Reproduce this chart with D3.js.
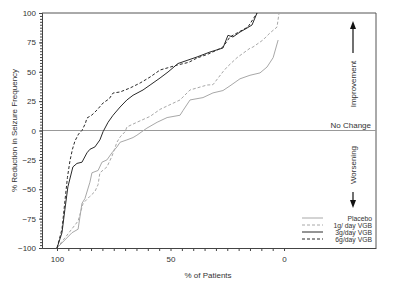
<!DOCTYPE html>
<meta charset="utf-8">
<style>
body { margin: 0; background: #fff; }
text { font-family: "Liberation Sans Narrow", "Arial Narrow", "Liberation Sans", Arial, sans-serif; fill: #333; }
.axis path, .axis line { stroke: #444; }
.axis text { font-size: 8px; fill: #333; }
.series { fill: none; stroke-width: 1px; }
</style>
<body>
<script src="https://d3js.org/d3.v7.min.js"></script>
<script>
// cumulative curves: [% of patients, % reduction]
var placebo = [[100,-100],[93.4,-87],[90.7,-84],[89,-62],[87.7,-58],[85.5,-44],[84.6,-36],[81.9,-34],
  [80.2,-27],[78,-25],[75.8,-19],[73.6,-14],[72.2,-10],[69.2,-8],[66.5,-6],[64.8,-4],[60.4,2],
  [55.9,7],[51.5,11],[45.8,13],[44.5,17],[41.4,26],[35.7,28],[31.3,32],[26.9,34],[23.8,38],
  [19.4,44],[15,47],[10.6,49],[7.5,54],[4.8,62],[2.6,77]];
var vgb1 = [[100,-100],[90.7,-77],[88.5,-62],[85.5,-56],[83.3,-52],[81.9,-46],[81.1,-36],[78,-31],
  [75.8,-22],[73.6,-10],[72.2,-5.5],[70,-1],[69.2,3],[64.8,7],[59,12],[54.6,18],[50.2,22],
  [45.8,26],[41.4,34.5],[33.9,38.7],[31.3,39],[26.9,50],[25.1,54],[20.7,62],[15,70],[13.7,71],
  [9.3,77],[6.2,83],[3.1,88],[2.2,100]];
var vgb3 = [[100,-100],[97.8,-87],[96.5,-67],[95.2,-48],[93,-31],[91.2,-28],[89,-27],[86.8,-19],
  [85.5,-16],[83.3,-14],[81.1,-8],[79.7,-1],[77.5,7],[75.3,13],[72.2,20],[69.2,26],[66.5,30],
  [62.1,34.5],[59,38.7],[54.6,44.7],[51.1,49.8],[46.7,57],[38.3,62.6],[32.6,66.8],[26.9,70.2],
  [24.7,81],[22.5,79.6],[19.4,83.8],[16.3,87.2],[14.1,89.8],[11.9,100]];
var vgb6 = [[100,-100],[97.8,-84],[96.5,-60],[95.4,-40],[94.3,-26],[93.2,-16],[92.1,-9],[90.5,-3],
  [89,0],[87.5,6],[86.8,10.6],[84.6,13.2],[82.4,17.4],[79.7,23.4],[77,27],[75.3,31.9],[72.2,32.8],
  [67.8,36.2],[63.4,40.4],[59,45.5],[54.6,51.5],[51.5,53.2],[47.1,55.7],[42,58],[38.3,61.7],
  [33.5,65],[29.5,68.5],[26.9,71.1],[23.8,79.6],[20.7,83],[15.9,88.1],[11.9,100]];

var seriesNames = ["Placebo", "1g/ day VGB", "3g/day VGB", "6g/day VGB"];
var yTicks = [100, 75, 50, 25, 0, -25, -50, -75, -100];
var xLabelled = [100, 50, 0];

var series = [
  {name: seriesNames[0], values: placebo, color: "#a8a8a8", dash: null},
  {name: seriesNames[1], values: vgb1, color: "#a8a8a8", dash: "3,2"},
  {name: seriesNames[2], values: vgb3, color: "#2a2a2a", dash: null},
  {name: seriesNames[3], values: vgb6, color: "#2a2a2a", dash: "3,2"}
];

var width = 400, height = 285;
var plotLeft = 42, plotRight = 376, plotTop = 13, plotBottom = 248;

var svg = d3.select("body").append("svg")
    .attr("width", width)
    .attr("height", height);

var x = d3.scaleLinear().domain([106.6, -40.5]).range([plotLeft, plotRight]);
var y = d3.scaleLinear().domain([-100, 100]).range([plotBottom, plotTop]);

// frame top and right
svg.append("line").attr("x1", plotLeft).attr("x2", plotRight).attr("y1", plotTop).attr("y2", plotTop)
    .attr("stroke", "#555");
svg.append("line").attr("x1", plotRight).attr("x2", plotRight).attr("y1", plotTop).attr("y2", plotBottom)
    .attr("stroke", "#555");

// no change line
svg.append("line").attr("x1", plotLeft).attr("x2", plotRight).attr("y1", y(0)).attr("y2", y(0))
    .attr("stroke", "#999");

// minor y ticks (dotted look)
svg.append("g")
    .attr("class", "axis")
    .attr("transform", "translate(" + plotLeft + ",0)")
    .call(d3.axisLeft(y).tickValues(d3.range(-100, 101, 2.5)).tickSize(2).tickFormat(""));

// y axis
svg.append("g")
    .attr("class", "axis")
    .attr("transform", "translate(" + plotLeft + ",0)")
    .call(d3.axisLeft(y).tickValues(yTicks).tickSize(3).tickSizeOuter(0).tickPadding(3));

// x axis
svg.append("g")
    .attr("class", "axis")
    .attr("transform", "translate(0," + plotBottom + ")")
    .call(d3.axisBottom(x).tickValues(d3.range(0, 101, 5)).tickSize(3).tickSizeOuter(0).tickPadding(5)
        .tickFormat(function(d) { return xLabelled.indexOf(d) >= 0 ? d : ""; }));

var line = d3.line()
    .x(function(d) { return x(d[0]); })
    .y(function(d) { return y(d[1]); });

svg.selectAll(".series")
    .data(series)
  .enter().append("path")
    .attr("class", "series")
    .attr("d", function(d) { return line(d.values); })
    .attr("stroke", function(d) { return d.color; })
    .attr("stroke-dasharray", function(d) { return d.dash; });

// axis titles
svg.append("text")
    .attr("transform", "translate(17," + ((plotTop + plotBottom) / 2) + ") rotate(-90)")
    .attr("text-anchor", "middle")
    .style("font-size", "8px")
    .text("%  Reduction in Seizure Frequency");

svg.append("text")
    .attr("x", 208).attr("y", 278)
    .attr("text-anchor", "middle")
    .style("font-size", "8px")
    .text("% of Patients");

svg.append("text")
    .attr("x", 371).attr("y", 128)
    .attr("text-anchor", "end")
    .style("font-size", "8px")
    .text("No Change");

// improvement / worsening arrows
var ax = 353;
svg.append("line").attr("x1", ax).attr("x2", ax).attr("y1", 53).attr("y2", 27)
    .attr("stroke", "#111").attr("stroke-width", 1.2);
svg.append("path").attr("d", "M" + ax + ",21 L" + (ax - 3) + ",29 L" + (ax + 3) + ",29 Z")
    .attr("fill", "#111");
svg.append("text")
    .attr("transform", "translate(" + (ax + 3) + ",84) rotate(-90)")
    .attr("text-anchor", "middle")
    .style("font-size", "8px")
    .text("Improvement");

svg.append("line").attr("x1", ax).attr("x2", ax).attr("y1", 192).attr("y2", 202)
    .attr("stroke", "#111").attr("stroke-width", 1.2);
svg.append("path").attr("d", "M" + ax + ",208 L" + (ax - 3) + ",200 L" + (ax + 3) + ",200 Z")
    .attr("fill", "#111");
svg.append("text")
    .attr("transform", "translate(" + (ax + 3) + ",165) rotate(-90)")
    .attr("text-anchor", "middle")
    .style("font-size", "8px")
    .text("Worsening");

// legend
var legend = svg.selectAll(".legend")
    .data(series)
  .enter().append("g")
    .attr("class", "legend")
    .attr("transform", function(d, i) { return "translate(0," + (218 + i * 7) + ")"; });

legend.append("line")
    .attr("x1", 302).attr("x2", 323).attr("y1", 0).attr("y2", 0)
    .attr("stroke", function(d) { return d.color; })
    .attr("stroke-dasharray", function(d) { return d.dash; });

legend.append("text")
    .attr("x", 372).attr("y", 2.5)
    .attr("text-anchor", "end")
    .style("font-size", "6.8px")
    .text(function(d) { return d.name; });
</script>
</body>
